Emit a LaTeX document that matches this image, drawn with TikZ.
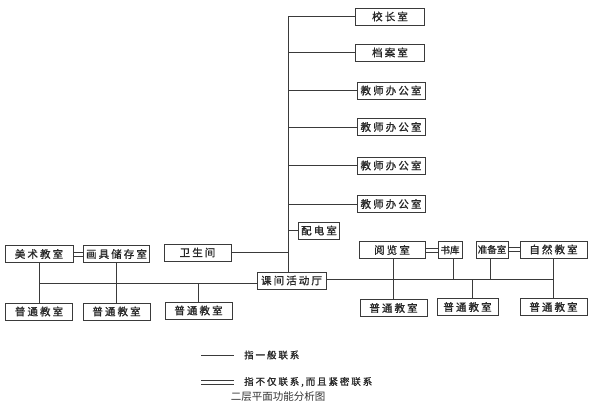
\documentclass[tikz,border=0pt]{standalone}
\usepackage{fontspec}
\newfontfamily\cjk[LetterSpace=20,FakeBold=1.2]{Noto Sans CJK SC}
\newfontfamily\cjknarrow[FakeBold=1.2]{Noto Sans CJK SC}
\newfontfamily\cjkcap{Noto Sans CJK SC}
\definecolor{linegray}{HTML}{3A3A3A}

\begin{document}
\begin{tikzpicture}[x=1pt, y=-1pt,
    room/.style={draw=linegray, line width=0.8pt, minimum height=17pt,
      inner sep=0pt, text=black!85, font=\cjk\fontsize{10.5}{12}\selectfont},
    small/.style={font=\cjknarrow\fontsize{9.5}{11}\selectfont},
    link/.style={linegray, line width=0.7pt},
    tight/.style={draw=none,
      postaction={draw=linegray, line width=0.6pt, transform canvas={yshift=2.2pt}},
      postaction={draw=linegray, line width=0.6pt, transform canvas={yshift=-2.2pt}}},
    legend/.style={anchor=west, inner sep=0pt, text=black!85,
      font=\cjk\fontsize{9.5}{11}\selectfont}]
    \useasboundingbox (0, 0) rectangle (590, 404);
    \node[room, minimum width=69pt] (xz) at (390, 16.5) {校长室};
    \node[room, minimum width=69pt] (da) at (390, 52.5) {档案室};
    \node[room, minimum width=68pt] (js1) at (391, 90.5) {教师办公室};
    \node[room, minimum width=68pt] (js2) at (391, 127) {教师办公室};
    \node[room, minimum width=68pt] (js3) at (391, 165.5) {教师办公室};
    \node[room, minimum width=68pt] (js4) at (391, 204) {教师办公室};
    \node[room, minimum width=41pt] (pd) at (319, 230.5) {配电室};
    \node[room, minimum width=67pt] (ws) at (197.5, 252.5) {卫生间};
    \node[room, minimum width=68pt] (ms) at (39, 254) {美术教室};
    \node[room, minimum width=66pt] (hj) at (116.5, 254) {画具储存室};
    \node[room, minimum width=69pt] (kj) at (291.5, 280.5) {课间活动厅};
    \node[room, minimum width=66pt] (yl) at (392, 250) {阅览室};
    \node[room, small, minimum width=24pt] (sk) at (450, 250) {书库};
    \node[room, small, minimum width=32pt] (zb) at (492, 249.5) {准备室};
    \node[room, minimum width=67pt] (zr) at (553.5, 249.5) {自然教室};
    \node[room, minimum width=67pt] (pt1) at (39, 311.5) {普通教室};
    \node[room, minimum width=67pt] (pt2) at (116.5, 311.5) {普通教室};
    \node[room, minimum width=67pt] (pt3) at (198.5, 310.5) {普通教室};
    \node[room, minimum width=67pt] (pt4) at (393.5, 308) {普通教室};
    \node[room, minimum width=61pt] (pt5) at (467.5, 307) {普通教室};
    \node[room, minimum width=67pt] (pt6) at (553.5, 307) {普通教室};
    \coordinate (trunk) at (288, 16.5);
    \coordinate (lbus) at (39, 283.5);
    \coordinate (rbus) at (553.5, 279.5);
    % offices on the trunk
    \draw[link] (xz) -- (trunk) -- (trunk |- kj.north);
    \foreach \n in {da, js1, js2, js3, js4, pd}
      \draw[link] (\n.west) -- (\n.west -| trunk);
    \draw[link] (ws) -- (ws -| trunk);
    % left wing
    \draw[link] (kj.west |- lbus) -- (lbus);
    \draw[link] (ms) -- (pt1);
    \draw[link] (hj) -- (pt2);
    \draw[link] (pt3) -- (pt3 |- lbus);
    \draw[tight] (ms) -- (hj);
    % right wing
    \draw[link] (kj.east |- rbus) -- (rbus);
    \draw[link] (zr) -- (pt6);
    \draw[link] (yl.south -| pt4) -- (pt4);
    \draw[link] ([xshift=3pt]sk.south) -- ([xshift=3pt]sk.south |- rbus);
    \draw[link] ([xshift=-2pt]zb.south) -- ([xshift=-2pt]zb.south |- rbus);
    \draw[link] ([xshift=5pt]pt5.north) -- ([xshift=5pt]pt5.north |- rbus);
    \draw[tight] (yl) -- (sk);
    \draw[tight] (zb) -- (zr);
    % legend
    \node[legend] (gen) at (244, 355) {指一般联系};
    \node[legend] (close) at (244, 382) {指不仅联系,而且紧密联系};
    \coordinate (l1) at (201, 355);
    \coordinate (l2) at (201, 382);
    \draw[link] (l1) -- ([xshift=-10pt]gen.west);
    \draw[tight] (l2) -- ([xshift=-10pt]close.west);
    \node[font=\cjkcap\fontsize{10.5}{12}\selectfont, text=black!80] (title) at (278, 397) {二层平面功能分析图};
\end{tikzpicture}
\end{document}
